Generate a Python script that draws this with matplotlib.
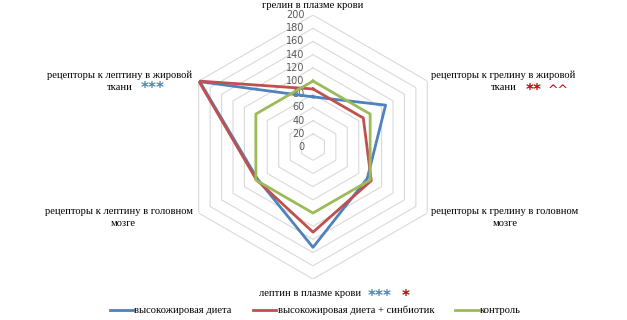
import matplotlib.pyplot as plt
import numpy as np

# оси диаграммы по часовой стрелке, начиная сверху
categories = [
    'грелин в плазме крови',
    'рецепторы к грелину в жировой\nткани',
    'рецепторы к грелину в головном\nмозге',
    'лептин в плазме крови',
    'рецепторы к лептину в головном\nмозге',
    'рецепторы к лептину в жировой\nткани',
]
series_names = ['высокожировая диета', 'высокожировая диета + синбиотик', 'контроль']
high_fat = [76, 127, 95, 152, 97, 198]
high_fat_synbiotic = [88, 88, 102, 129, 99, 200]
control = [100, 100, 100, 100, 100, 100]
rings = [20, 40, 60, 80, 100, 120, 140, 160, 180, 200]
tick_labels = [0, 20, 40, 60, 80, 100, 120, 140, 160, 180, 200]

colors = ['#4F81BD', '#C0504D', '#9BBB59']
serif = 'Liberation Serif'
W, H = 627, 320

fig = plt.figure(figsize=(6.27, 3.2), dpi=100)
ax = fig.add_axes([0.2887, 0.128, 0.421, 0.825], projection='polar')
ax.set_theta_zero_location('N')
ax.set_theta_direction(-1)
ax.set_ylim(0, 200)
ax.set_xticks([])
ax.set_yticks([])
ax.grid(False)
ax.spines['polar'].set_visible(False)
ax.patch.set_visible(False)

angles = np.deg2rad(np.arange(len(categories)) * 60)
closed = np.append(angles, angles[0])

# шестиугольная сетка
for r in rings:
    ax.plot(closed, [r] * len(closed), color='#d9d9d9', lw=0.8, zorder=1)

for v in tick_labels:
    ax.annotate(str(v), xy=(0, v), xytext=(-6, 0), textcoords='offset points',
                ha='right', va='center', fontsize=7, color='#595959')

handles = []
for vals, c, name in zip([high_fat, high_fat_synbiotic, control], colors, series_names):
    h, = ax.plot(closed, vals + vals[:1], color=c, lw=2, label=name, zorder=3)
    handles.append(h)


def px_text(x, y, s, **kw):
    # координаты в пикселях от левого верхнего угла
    fig.text(x / W, 1 - y / H, s, va='center', **kw)


# подписи осей (по строкам)
fs = 7.6
lbl = dict(fontsize=fs, family=serif)
label_pos = [
    ((313, 5), None),
    ((503, 75), (491, 88)),
    ((505, 211), (505, 223)),
    ((310, 293), None),
    ((119, 211), (123, 223)),
    ((120, 75), (107, 88)),
]
for cat, (p1, p2) in zip(categories, label_pos):
    lines = cat.split('\n')
    px_text(p1[0], p1[1], lines[0], ha='center', **lbl)
    if p2 is not None:
        ha = 'center' if p2[0] == p1[0] or abs(p2[0] - p1[0]) < 5 else 'left'
        px_text(p2[0], p2[1], lines[1], ha=ha, **lbl)

# значки достоверности
star = dict(ha='center', fontsize=11, fontweight='bold')
px_text(534, 91, '**', color='#C00000', **star)
px_text(558, 90, '^^', color='#C00000', ha='center', fontsize=9)
px_text(153, 89, '***', color='#4F81BD', **star)
px_text(380, 296, '***', color='#4F81BD', **star)
px_text(406, 296, '*', color='#C00000', **star)

fig.legend(handles=handles, loc='lower center', bbox_to_anchor=(0.503, -0.015), ncol=3,
           frameon=False, prop={'family': serif, 'size': fs}, handlelength=2.2,
           handletextpad=0.15, columnspacing=2.0)

fig.savefig('out.png', dpi=100)
